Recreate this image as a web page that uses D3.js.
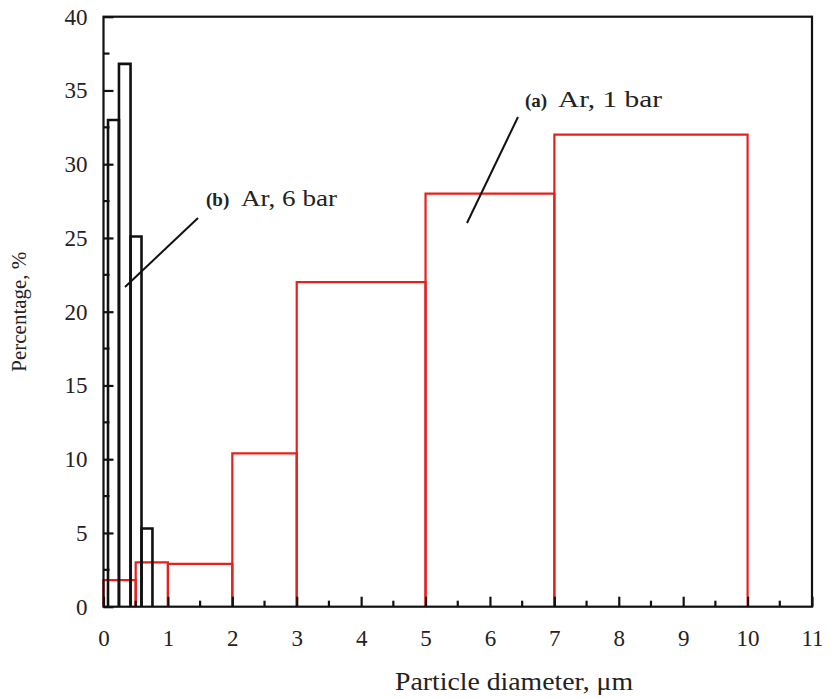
<!DOCTYPE html>
<html><head><meta charset="utf-8">
<script src="https://cdn.jsdelivr.net/npm/d3@7"></script>
<style>body{margin:0;background:#fff}svg{display:block}text{font-family:"Liberation Serif","Times New Roman",Times,serif;fill:#222}</style>
</head><body><div id="chart"></div>
<script>
// Series (a) Ar, 1 bar : bin edges and percentages
const edgesA = [0, 0.5, 1, 2, 3, 5, 7, 10];
const valuesA = [1.8, 3.0, 2.9, 10.4, 22.0, 28.0, 32.0];
// Series (b) Ar, 6 bar
const edgesB = [0.07, 0.24, 0.42, 0.59, 0.76];
const valuesB = [33.0, 36.8, 25.1, 5.3];
const xTicks = [0,1,2,3,4,5,6,7,8,9,10,11];
const yTicks = [0,5,10,15,20,25,30,35,40];
const labelA = ["(a)", "Ar, 1 bar"];
const labelB = ["(b)", "Ar, 6 bar"];
const xTitle = "Particle diameter,  \u03bcm";
const yTitle = "Percentage,  %";

const W = 830, H = 699;
const m = {left:103.5, right:830-812, top:16.7, bottom:699-606.7};
const svg = d3.select("#chart").append("svg").attr("width", W).attr("height", H);
const x = d3.scaleLinear().domain([0, 11]).range([m.left, W - m.right]);
const y = d3.scaleLinear().domain([0, 40]).range([H - m.bottom, m.top]);

function bins(edges, vals) {
  return vals.map((v, i) => ({x0: edges[i], x1: edges[i+1], v}));
}
function drawBins(bs, color, width) {
  const g = svg.append("g");
  bs.forEach(b => {
    const p = d3.path();
    p.moveTo(x(b.x0), y(0)); p.lineTo(x(b.x0), y(b.v));
    p.lineTo(x(b.x1), y(b.v)); p.lineTo(x(b.x1), y(0));
    g.append("path").attr("d", p.toString()).attr("fill", "none")
      .attr("stroke", color).attr("stroke-width", width).attr("stroke-linejoin", "miter");
  });
}
drawBins(bins(edgesA, valuesA), "#e8201c", 2.2);
drawBins(bins(edgesB, valuesB), "#111", 2.6);

// axes frame
svg.append("rect").attr("x", x(0)).attr("y", y(40)).attr("width", x(11)-x(0)).attr("height", y(0)-y(40))
  .attr("fill", "none").attr("stroke", "#111").attr("stroke-width", 2.2);

// x axis ticks (inward)
const xAxis = d3.axisBottom(x).tickValues(xTicks).tickSize(-10).tickPadding(23).tickFormat(d3.format("d"));
const gx = svg.append("g").attr("transform", `translate(0,${y(0)})`).call(xAxis);
gx.select(".domain").remove();
gx.selectAll("line").attr("stroke", "#111").attr("stroke-width", 2.2);
gx.selectAll("text").attr("font-size", 23).attr("fill", "#222");
const xMinor = d3.range(0.5, 11, 1);
svg.append("g").selectAll("line").data(xMinor).join("line")
  .attr("x1", d => x(d)).attr("x2", d => x(d)).attr("y1", y(0)).attr("y2", y(0) - 6)
  .attr("stroke", "#111").attr("stroke-width", 2.2);

// y axis
const yAxis = d3.axisLeft(y).tickValues(yTicks).tickSize(-10).tickPadding(16).tickFormat(d3.format("d"));
const gy = svg.append("g").attr("transform", `translate(${x(0)},0)`).call(yAxis);
gy.select(".domain").remove();
gy.selectAll("line").attr("stroke", "#111").attr("stroke-width", 2.2);
gy.selectAll("text").attr("font-size", 23).attr("fill", "#222");
const yMinor = d3.range(2.5, 40, 5);
svg.append("g").selectAll("line").data(yMinor).join("line")
  .attr("x1", x(0)).attr("x2", x(0) + 6).attr("y1", d => y(d)).attr("y2", d => y(d))
  .attr("stroke", "#111").attr("stroke-width", 2.2);

// titles
svg.append("text").attr("x", 395).attr("y", 690)
  .attr("font-size", 25).attr("textLength", 238).attr("lengthAdjust", "spacingAndGlyphs").text(xTitle);
svg.append("text").attr("transform", `translate(26,${(y(0)+y(40))/2}) rotate(-90)`).attr("text-anchor", "middle")
  .attr("font-size", 21).text(yTitle);

// annotations
svg.append("line").attr("x1", 125).attr("y1", 287).attr("x2", 198).attr("y2", 218).attr("stroke", "#111").attr("stroke-width", 2);
svg.append("line").attr("x1", 467).attr("y1", 223).attr("x2", 518).attr("y2", 117).attr("stroke", "#111").attr("stroke-width", 2);
function label(tx, ty, parts, tx2, w2) {
  svg.append("text").attr("x", tx).attr("y", ty).attr("font-weight", "bold").attr("font-size", 19).text(parts[0]);
  svg.append("text").attr("x", tx2).attr("y", ty).attr("font-size", 24)
    .attr("textLength", w2).attr("lengthAdjust", "spacingAndGlyphs").text(parts[1]);
}
label(206, 206, labelB, 241, 96);
label(525, 107, labelA, 558, 104);
</script></body></html>
